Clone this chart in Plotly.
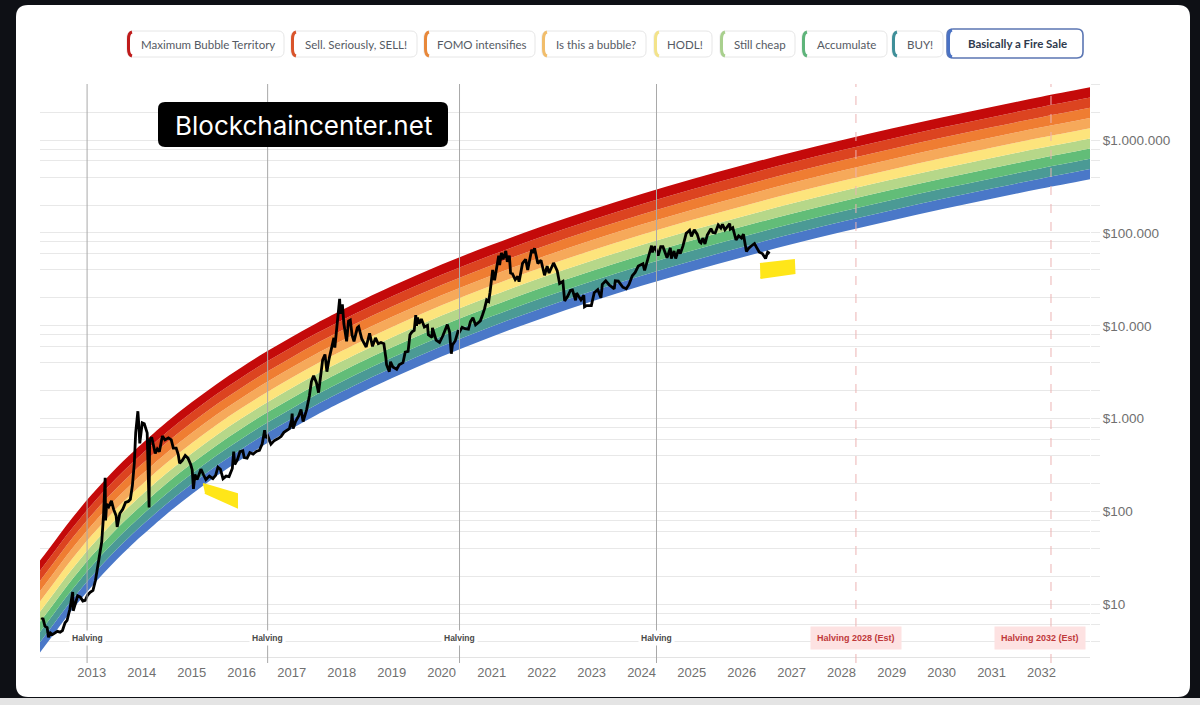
import plotly.graph_objects as go

# === Price line ===
price_dates = [
    "2012-01-01", "2012-01-10", "2012-01-25", "2012-02-10", "2012-02-20", "2012-03-05", "2012-03-20",
    "2012-04-05", "2012-04-25", "2012-05-15", "2012-06-01", "2012-06-20", "2012-07-05", "2012-07-25",
    "2012-08-15", "2012-08-19", "2012-09-05", "2012-09-20", "2012-10-10", "2012-10-28", "2012-11-15",
    "2012-12-01", "2012-12-20", "2013-01-10", "2013-01-28", "2013-02-15", "2013-03-01", "2013-03-15",
    "2013-03-28", "2013-04-09", "2013-04-12", "2013-04-20", "2013-05-05", "2013-05-25", "2013-06-10",
    "2013-06-28", "2013-07-06", "2013-07-25", "2013-08-15", "2013-09-05", "2013-09-25", "2013-10-10",
    "2013-10-25", "2013-11-08", "2013-11-18", "2013-11-30", "2013-12-04", "2013-12-10", "2013-12-18",
    "2014-01-05", "2014-01-20", "2014-02-10", "2014-02-24", "2014-02-28", "2014-03-15", "2014-04-10",
    "2014-04-25", "2014-05-10", "2014-06-01", "2014-06-20", "2014-07-15", "2014-08-05", "2014-08-20",
    "2014-09-10", "2014-09-25", "2014-10-05", "2014-10-25", "2014-11-15", "2014-12-05", "2014-12-25",
    "2015-01-05", "2015-01-14", "2015-01-25", "2015-02-10", "2015-03-10", "2015-03-30", "2015-04-15",
    "2015-05-10", "2015-06-05", "2015-06-25", "2015-07-12", "2015-07-30", "2015-08-18", "2015-09-10",
    "2015-10-01", "2015-10-25", "2015-11-04", "2015-11-12", "2015-12-01", "2015-12-20", "2016-01-10",
    "2016-01-20", "2016-02-10", "2016-03-01", "2016-03-25", "2016-04-20", "2016-05-10", "2016-05-30",
    "2016-06-17", "2016-06-25", "2016-07-10", "2016-08-02", "2016-08-25", "2016-09-20", "2016-10-15",
    "2016-11-05", "2016-11-25", "2016-12-15", "2016-12-31", "2017-01-04", "2017-01-11", "2017-01-28",
    "2017-02-20", "2017-03-10", "2017-03-25", "2017-04-20", "2017-05-10", "2017-05-25", "2017-06-10",
    "2017-06-30", "2017-07-16", "2017-08-01", "2017-08-15", "2017-09-01", "2017-09-15", "2017-10-01",
    "2017-10-20", "2017-11-05", "2017-11-12", "2017-11-28", "2017-12-07", "2017-12-17", "2017-12-22",
    "2018-01-06", "2018-01-17", "2018-02-06", "2018-02-20", "2018-03-05", "2018-03-18", "2018-04-01",
    "2018-04-25", "2018-05-05", "2018-05-28", "2018-06-12", "2018-06-29", "2018-07-24", "2018-08-14",
    "2018-09-05", "2018-09-25", "2018-10-15", "2018-11-05", "2018-11-20", "2018-11-25", "2018-12-15",
    "2018-12-24", "2019-01-10", "2019-02-07", "2019-02-25", "2019-03-25", "2019-04-10", "2019-05-01",
    "2019-05-15", "2019-05-30", "2019-06-15", "2019-06-26", "2019-07-02", "2019-07-10", "2019-07-20",
    "2019-08-06", "2019-08-28", "2019-09-20", "2019-09-26", "2019-10-23", "2019-10-26", "2019-11-22",
    "2019-12-17", "2020-01-10", "2020-02-12", "2020-02-28", "2020-03-12", "2020-03-20", "2020-04-10",
    "2020-04-30", "2020-05-11", "2020-05-30", "2020-06-20", "2020-07-15", "2020-07-30", "2020-08-17",
    "2020-09-05", "2020-09-25", "2020-10-10", "2020-10-25", "2020-11-10", "2020-11-25", "2020-12-10",
    "2020-12-20", "2021-01-08", "2021-01-22", "2021-02-10", "2021-02-21", "2021-02-28", "2021-03-13",
    "2021-03-25", "2021-04-14", "2021-04-25", "2021-05-10", "2021-05-19", "2021-06-01", "2021-06-22",
    "2021-07-10", "2021-07-20", "2021-08-14", "2021-09-06", "2021-09-21", "2021-10-20", "2021-11-01",
    "2021-11-10", "2021-11-28", "2021-12-04", "2021-12-27", "2022-01-22", "2022-02-10", "2022-02-24",
    "2022-03-29", "2022-04-25", "2022-05-12", "2022-06-05", "2022-06-18", "2022-07-10", "2022-07-30",
    "2022-08-14", "2022-09-06", "2022-09-13", "2022-10-15", "2022-11-05", "2022-11-10", "2022-11-25",
    "2022-12-30", "2023-01-20", "2023-02-15", "2023-03-10", "2023-03-20", "2023-04-14", "2023-05-10",
    "2023-06-15", "2023-06-23", "2023-07-15", "2023-08-17", "2023-09-11", "2023-10-01", "2023-10-25",
    "2023-11-15", "2023-12-08", "2024-01-11", "2024-01-23", "2024-02-15", "2024-03-14", "2024-03-20",
    "2024-04-08", "2024-05-01", "2024-05-20", "2024-06-05", "2024-07-05", "2024-07-29", "2024-08-05",
    "2024-08-25", "2024-09-06", "2024-09-27", "2024-10-10", "2024-10-29", "2024-11-12", "2024-11-22",
    "2024-12-05", "2024-12-17", "2024-12-30", "2025-01-20", "2025-02-10", "2025-02-28", "2025-03-10",
    "2025-03-24", "2025-04-08", "2025-04-25", "2025-05-22", "2025-06-05", "2025-06-22", "2025-07-14",
    "2025-08-02", "2025-08-14", "2025-09-01", "2025-09-18", "2025-10-06", "2025-10-10", "2025-10-28",
    "2025-11-21", "2025-12-10", "2025-12-31", "2026-01-14", "2026-02-05", "2026-02-20", "2026-03-10",
    "2026-04-05", "2026-04-20", "2026-05-10", "2026-06-01", "2026-06-25", "2026-07-10", "2026-07-25",
]
price_values = [
    6.8, 7.1, 5.8, 5.6, 4.4, 4.9, 4.7,
    4.9, 5.1, 5.0, 5.2, 6.3, 6.7, 8.8,
    13.5, 8.5, 10.5, 12.3, 11.9, 10.8, 11.0,
    12.5, 13.4, 14.1, 18, 26, 34, 47,
    90, 230, 80, 120, 112, 130, 105,
    90, 68, 95, 105, 125, 128, 135,
    190, 330, 700, 1160, 1200, 900, 540,
    900, 880, 700, 110, 580, 630, 420,
    470, 440, 650, 590, 620, 590, 480,
    480, 410, 330, 355, 400, 375, 320,
    280, 175, 250, 220, 285, 245, 220,
    240, 225, 245, 300, 285, 225, 240,
    237, 290, 440, 320, 360, 440, 450,
    380, 375, 430, 415, 445, 455, 530,
    750, 620, 650, 530, 575, 605, 640,
    710, 740, 780, 960, 1130, 780, 920,
    1060, 1250, 930, 1250, 1750, 2500, 2900,
    2450, 1900, 2750, 4300, 4900, 3200, 4400,
    6000, 7400, 5800, 10000, 16000, 19500, 13500,
    17000, 10500, 6800, 11200, 11500, 7900, 6800,
    9500, 9800, 7200, 6500, 5900, 8300, 6000,
    7400, 6400, 6600, 6400, 4500, 3800, 3200,
    4100, 3600, 3400, 3800, 4000, 5200, 5300,
    8000, 8600, 8900, 13000, 10000, 12300, 10500,
    11800, 9700, 10100, 8000, 7500, 9500, 7000,
    6600, 7800, 10300, 8600, 5000, 6200, 6900,
    8700, 8600, 9600, 9300, 9200, 11100, 12200,
    10200, 10700, 11300, 13000, 15300, 19000, 18300,
    23000, 40000, 31000, 45000, 57000, 45000, 61000,
    52000, 64000, 49000, 57000, 37000, 36500, 31500,
    34000, 29800, 47000, 52000, 40000, 66000, 61000,
    68500, 54000, 47000, 50800, 35000, 44000, 37000,
    47500, 39000, 28500, 30000, 18500, 20800, 24000,
    24300, 18800, 22500, 19000, 21300, 16000, 16500,
    16500, 22700, 24500, 20000, 28000, 30500, 27500,
    25000, 30500, 30300, 26000, 25000, 27900, 34500,
    37500, 44000, 46500, 39500, 52000, 73000, 62000,
    72000, 57000, 71000, 71000, 54000, 69000, 53000,
    64000, 53000, 66000, 60000, 72000, 89000, 99000,
    103000, 107000, 92000, 108000, 97000, 80000, 78000,
    88000, 76000, 95000, 111000, 101000, 100000, 122000,
    113000, 124000, 108000, 117000, 126000, 110000, 114000,
    84000, 93000, 88000, 97000, 63000, 68000, 72000,
    77000, 70000, 62000, 60000, 53000, 62000, 60000,
]

# === Rainbow: upper edge of the red band ===
band_dates = [
    "2011-12-20", "2012-04-01", "2012-07-01", "2012-10-01", "2013-01-01", "2013-04-01", "2013-07-01",
    "2013-10-01", "2014-01-01", "2014-07-01", "2015-01-01", "2015-07-01", "2016-01-01", "2016-07-01",
    "2017-01-01", "2017-07-01", "2018-01-01", "2019-01-01", "2020-01-01", "2021-01-01", "2022-01-01",
    "2023-01-01", "2024-01-01", "2025-01-01", "2026-01-01", "2027-01-01", "2028-01-01", "2029-01-01",
    "2030-01-01", "2031-01-01", "2032-01-01", "2032-12-20",
]
band_top = [
    29.5, 46.9, 71.1, 105, 152, 213, 295,
    400, 533, 912, 1496, 2350, 3570, 5270,
    7570, 10670, 14720, 26600, 45700, 74600, 117200,
    178200, 263000, 379000, 532000, 738000, 1000000, 1333000,
    1758000, 2280000, 2938000, 3707000,
]
# depth of each band boundary below the top edge, in decades
band_offsets = [0.0, 0.11, 0.22, 0.33, 0.44, 0.55, 0.66, 0.77, 0.88, 0.99]

band_names = [
    "Maximum Bubble Territory", "Sell. Seriously, SELL!", "FOMO intensifies", "Is this a bubble?",
    "HODL!", "Still cheap", "Accumulate", "BUY!", "Basically a Fire Sale",
]
band_colors = [
    "#c40a0a", "#dc4420", "#ef7d32", "#f6a95a", "#fde47c",
    "#b6d789", "#62bd78", "#4b9a95", "#4a78c8",
]
legend_marks = [
    "#bf1b1b", "#d9542b", "#e8883a", "#f1bd6b", "#f3e38a",
    "#a9d08e", "#5eb47a", "#3f8f99", "#4a72c4",
]

halving_dates = ["2012-11-28", "2016-07-09", "2020-05-11", "2024-04-19"]
future_halvings = ["2028-04-15", "2032-03-10"]
future_labels = ["Halving 2028 (Est)", "Halving 2032 (Est)"]

year_ticks = [f"{y}-01-01" for y in range(2013, 2033)]
year_labels = [str(y) for y in range(2013, 2033)]
price_ticks = [10, 100, 1000, 10000, 100000, 1000000]
price_labels = ["$10", "$100", "$1.000", "$10.000", "$100.000", "$1.000.000"]

# yellow marker strokes drawn over the chart
mark1_dates = ["2015-03-25", "2015-11-28", "2015-11-28", "2015-04-08"]
mark1_prices = [197, 154, 111, 158]
mark2_dates = ["2026-05-15", "2027-01-18", "2027-01-22", "2026-05-18"]
mark2_prices = [46200, 51100, 37000, 32700]

# === layout geometry (pixels) ===
W, H = 1200, 705
L, R, T, B = 40, 1090, 84, 657


def px(x):
    return (x - L) / (R - L)


def py(y):
    return (B - y) / (B - T)


def rounded_rect(x0, y0, x1, y1, r):
    rx = r / (R - L)
    ry = r / (B - T)
    a, b, c, d = px(x0), py(y1), px(x1), py(y0)  # left, bottom, right, top
    return (f"M{a+rx},{d} L{c-rx},{d} Q{c},{d} {c},{d-ry} L{c},{b+ry} Q{c},{b} {c-rx},{b} "
            f"L{a+rx},{b} Q{a},{b} {a},{b+ry} L{a},{d-ry} Q{a},{d} {a+rx},{d} Z")


fig = go.Figure()

# bands, bottom boundary first then fill upward
for k in range(len(band_offsets) - 1, -1, -1):
    off = band_offsets[k]
    ys = [v / (10 ** off) for v in band_top]
    if k == len(band_offsets) - 1:
        fig.add_trace(go.Scatter(x=band_dates, y=ys, mode="lines", line=dict(width=0, shape="spline"),
                                 hoverinfo="skip", showlegend=False))
    else:
        fig.add_trace(go.Scatter(x=band_dates, y=ys, mode="lines", line=dict(width=0, shape="spline"),
                                 fill="tonexty", fillcolor=band_colors[k], name=band_names[k],
                                 showlegend=False))

fig.add_trace(go.Scatter(x=price_dates, y=price_values, mode="lines",
                         line=dict(color="black", width=2.8), name="BTC Price", showlegend=False))

for xs, ys in [(mark1_dates, mark1_prices), (mark2_dates, mark2_prices)]:
    fig.add_trace(go.Scatter(x=xs, y=ys, mode="lines", fill="toself", fillcolor="#ffe619",
                             line=dict(color="#ffe619", width=2),
                             hoverinfo="skip", showlegend=False))

shapes = []
annotations = []

# screenshot frame: white card on a dark background, grey strip at the bottom
shapes.append(dict(type="path", xref="paper", yref="paper", layer="below",
                   path=rounded_rect(16, 5, 1190, 697, 12), fillcolor="white", line=dict(width=0)))
shapes.append(dict(type="rect", xref="paper", yref="paper", layer="below",
                   x0=px(0), x1=px(W), y0=py(H), y1=py(698), fillcolor="#e4e4e4", line=dict(width=0)))

# halving lines
for d in halving_dates:
    shapes.append(dict(type="line", xref="x", yref="paper", x0=d, x1=d, y0=py(663), y1=1,
                       line=dict(color="#a9a9a9", width=1), layer="above"))
    annotations.append(dict(x=d, y=py(638), xref="x", yref="paper", text="<b>Halving</b>",
                            showarrow=False, bgcolor="white", borderpad=2,
                            xanchor="center", yanchor="middle",
                            font=dict(family="Liberation Sans", size=8.5, color="#4a4a4a")))
for d, lab, shift in zip(future_halvings, future_labels, [0, -11]):
    shapes.append(dict(type="line", xref="x", yref="paper", x0=d, x1=d, y0=py(663), y1=1,
                       line=dict(color="#ecb3b3", width=1, dash="dash"), layer="above"))
    annotations.append(dict(x=d, y=py(638), xref="x", yref="paper", text=f"<b>{lab}</b>",
                            showarrow=False, bgcolor="#fde2e2", borderpad=6, xshift=shift,
                            xanchor="center", yanchor="middle",
                            font=dict(family="Liberation Sans", size=9, color="#c0393b")))

# legend chips across the top
chip_x = [(127, 284), (291, 417), (424, 535), (542, 646), (654, 712),
          (720, 795), (802, 887), (892, 943), (947, 1083)]
for i, (x0, x1) in enumerate(chip_x):
    last = i == len(chip_x) - 1
    y0, y1 = (29, 58) if last else (31, 57)
    shapes.append(dict(type="path", xref="paper", yref="paper", layer="above",
                       path=rounded_rect(x0, y0, x1, y1, 6), fillcolor="white",
                       line=dict(color="#5b76b3" if last else "#e6e6e6", width=1.6 if last else 1)))
    bx = px(x0 + 1.5)
    shapes.append(dict(type="path", xref="paper", yref="paper", layer="above",
                       path=(f"M{px(x0 + 5)},{py(y0 + 1)} Q{bx},{py(y0 + 2)} {bx},{py(y0 + 8)} "
                             f"L{bx},{py(y1 - 8)} Q{bx},{py(y1 - 2)} {px(x0 + 5)},{py(y1 - 1)}"),
                       line=dict(color=legend_marks[i], width=3)))
    txt = f"<b>{band_names[i]}</b>" if last else band_names[i]
    annotations.append(dict(x=px((x0 + x1) / 2 + 2), y=py((y0 + y1) / 2), xref="paper", yref="paper",
                            text=txt, showarrow=False, xanchor="center", yanchor="middle",
                            font=dict(family="Lato", size=11.5, color="#2f3a4d" if last else "#555a63")))

# watermark
shapes.append(dict(type="path", xref="paper", yref="paper", layer="above",
                   path=rounded_rect(158, 102, 448, 147, 7), fillcolor="black", line=dict(width=0)))
annotations.append(dict(x=px(303), y=py(125), xref="paper", yref="paper", text="Blockchaincenter.net",
                        showarrow=False, xanchor="center", yanchor="middle",
                        font=dict(family="Inter", size=26, color="white")))

minor_vals = [m * 10 ** n for n in range(0, 7) for m in (2, 4, 6, 8)]

fig.update_layout(
    width=W, height=H,
    margin=dict(l=L, r=W - R, t=T, b=H - B),
    paper_bgcolor="#0e1015",
    plot_bgcolor="white",
    shapes=shapes,
    annotations=annotations,
    showlegend=False,
    xaxis=dict(
        type="date",
        range=["2011-12-20", "2032-12-20"],
        tickmode="array", tickvals=year_ticks, ticktext=year_labels,
        showgrid=False, zeroline=False,
        showline=True, linecolor="#e3e3e3",
        ticks="outside", ticklen=3, tickcolor="rgba(0,0,0,0)",
        tickfont=dict(family="Liberation Sans", size=13, color="#707070"),
    ),
    yaxis=dict(
        type="log",
        range=[0.431, 6.605],
        side="right",
        tickmode="array", tickvals=price_ticks, ticktext=price_labels,
        showgrid=True, gridcolor="#e8e8e8", gridwidth=1, zeroline=False,
        ticks="outside", ticklen=9, tickcolor="#e8e8e8",
        minor=dict(tickmode="array", tickvals=minor_vals, showgrid=True, gridcolor="#e8e8e8",
                   ticks="outside", ticklen=9, tickcolor="#e8e8e8"),
        tickfont=dict(family="Liberation Sans", size=13.5, color="#707070"),
    ),
)

# drop the page's default body margin so the figure sits at the window's corner
fig.write_html("out.html", config={"displayModeBar": False},
               post_script="document.body.style.margin='0';")
